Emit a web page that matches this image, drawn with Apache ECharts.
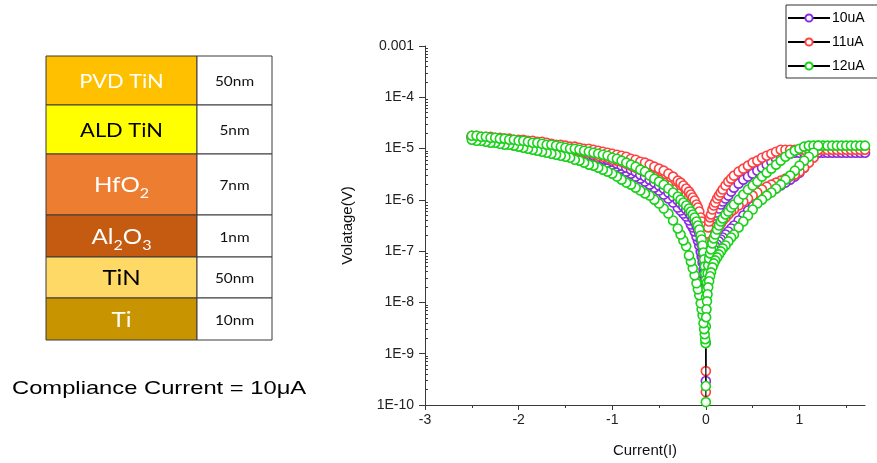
<!DOCTYPE html>
<html>
<head>
<meta charset="utf-8">
<script src="https://cdn.jsdelivr.net/npm/echarts@6/dist/echarts.min.js"></script>
<style>
  html, body { margin: 0; padding: 0; background: #fff; }
  #chart { width: 877px; height: 463px; }
</style>
</head>
<body>
<div id="chart"></div>
<script>
// ---- sweep currents ----
const sweepNeg = [-2.5, -2.45, -2.4, -2.35, -2.3, -2.25, -2.2, -2.15, -2.1, -2.05,
  -2.0, -1.95, -1.9, -1.85, -1.8, -1.75, -1.7, -1.65, -1.6, -1.55,
  -1.5, -1.45, -1.4, -1.35, -1.3, -1.25, -1.2, -1.15, -1.1, -1.05,
  -1.0, -0.95, -0.9, -0.85, -0.8, -0.75, -0.7, -0.65, -0.6, -0.55,
  -0.5, -0.45, -0.4, -0.35,
  -0.3, -0.27, -0.24, -0.21, -0.18, -0.16, -0.14, -0.12, -0.1, -0.085,
  -0.07, -0.055, -0.045, -0.035, -0.025, -0.018, -0.012, -0.007, -0.003];
const sweepPos = [0.003, 0.007, 0.012, 0.018, 0.025, 0.035, 0.045, 0.055, 0.07, 0.085,
  0.1, 0.12, 0.14, 0.16, 0.18, 0.21, 0.24, 0.27, 0.3,
  0.35, 0.4, 0.45, 0.5, 0.55, 0.6, 0.65, 0.7, 0.75, 0.8,
  0.85, 0.9, 0.95, 1.0, 1.05, 1.1, 1.15,
  1.2, 1.25, 1.3, 1.35, 1.4, 1.45, 1.5, 1.55, 1.6, 1.65, 1.7];

// ---- 10uA ----
const v10Zero = [2.93e-10];
const v10NegLower = [1.63e-5, 1.63e-5, 1.56e-5, 1.56e-5, 1.49e-5, 1.49e-5, 1.42e-5, 1.42e-5, 1.36e-5, 1.36e-5,
  1.30e-5, 1.24e-5, 1.19e-5, 1.19e-5, 1.14e-5, 1.09e-5, 1.04e-5, 9.94e-6, 9.50e-6, 9.50e-6,
  9.09e-6, 8.69e-6, 8.31e-6, 7.94e-6, 7.60e-6, 6.95e-6, 6.64e-6, 6.07e-6, 5.81e-6, 5.31e-6,
  4.86e-6, 4.44e-6, 4.06e-6, 3.55e-6, 3.24e-6, 2.84e-6, 2.59e-6, 2.27e-6, 1.98e-6, 1.73e-6,
  1.52e-6, 1.27e-6, 1.06e-6, 8.86e-7,
  7.08e-7, 6.19e-7, 5.41e-7, 4.73e-7, 3.96e-7, 3.31e-7, 2.89e-7, 2.42e-7, 1.93e-7, 1.62e-7,
  1.29e-7, 9.88e-8, 7.89e-8, 6.03e-8, 4.41e-8, 3.23e-8, 2.36e-8, 1.72e-8, 1.32e-8];
const v10NegUpper = [1.70e-5, 1.70e-5, 1.63e-5, 1.63e-5, 1.56e-5, 1.56e-5, 1.49e-5, 1.42e-5, 1.42e-5, 1.36e-5,
  1.36e-5, 1.30e-5, 1.30e-5, 1.24e-5, 1.19e-5, 1.19e-5, 1.14e-5, 1.09e-5, 1.04e-5, 1.04e-5,
  9.94e-6, 9.50e-6, 9.09e-6, 8.69e-6, 8.31e-6, 7.60e-6, 7.26e-6, 6.64e-6, 6.35e-6, 6.07e-6,
  5.55e-6, 5.08e-6, 4.64e-6, 4.25e-6, 3.88e-6, 3.55e-6, 3.10e-6, 2.84e-6, 2.48e-6, 2.17e-6,
  1.90e-6, 1.66e-6, 1.39e-6, 1.16e-6,
  9.69e-7, 8.47e-7, 7.41e-7, 6.47e-7, 5.66e-7, 4.95e-7, 4.33e-7, 3.78e-7, 3.16e-7, 2.64e-7,
  2.21e-7, 1.69e-7, 1.35e-7, 1.03e-7, 7.55e-8, 5.52e-8, 4.03e-8, 2.95e-8, 2.15e-8];
const v10PosRise = [4.41e-8, 6.31e-8, 9.03e-8, 1.29e-7, 1.69e-7, 2.21e-7, 2.64e-7, 3.03e-7, 3.62e-7, 4.33e-7,
  4.95e-7, 5.66e-7, 6.77e-7, 8.10e-7, 9.26e-7, 1.06e-6, 1.21e-6, 1.45e-6, 1.73e-6,
  2.07e-6, 2.48e-6, 2.84e-6, 3.24e-6, 3.71e-6, 4.25e-6, 4.86e-6, 5.55e-6, 6.35e-6, 6.95e-6,
  7.60e-6, 7.94e-6, 8.31e-6, 8.31e-6, 8.31e-6, 8.31e-6, 8.31e-6,
  8.31e-6, 8.31e-6, 8.31e-6, 8.31e-6, 8.31e-6, 8.31e-6, 8.31e-6, 8.31e-6, 8.31e-6, 8.31e-6, 8.31e-6];
const v10PosFall = [1.44e-8, 1.88e-8, 2.46e-8, 3.23e-8, 4.22e-8, 5.28e-8, 6.31e-8, 7.22e-8, 9.03e-8, 1.08e-7,
  1.24e-7, 1.35e-7, 1.55e-7, 1.69e-7, 1.85e-7, 2.11e-7, 2.42e-7, 2.77e-7, 3.16e-7,
  3.96e-7, 4.95e-7, 6.19e-7, 7.41e-7, 8.86e-7, 1.06e-6, 1.27e-6, 1.45e-6, 1.66e-6, 1.90e-6,
  2.17e-6, 2.48e-6, 2.84e-6, 3.39e-6, 4.25e-6, 5.55e-6, 6.95e-6,
  8.31e-6];

// ---- 11uA ----
const v11Zero = [1.79e-10, 4.58e-10];
const v11NegLower = [1.70e-5, 1.70e-5, 1.63e-5, 1.63e-5, 1.56e-5, 1.56e-5, 1.49e-5, 1.49e-5, 1.42e-5, 1.42e-5,
  1.36e-5, 1.36e-5, 1.30e-5, 1.30e-5, 1.24e-5, 1.19e-5, 1.14e-5, 1.14e-5, 1.09e-5, 1.04e-5,
  9.94e-6, 9.50e-6, 9.50e-6, 9.09e-6, 8.69e-6, 8.31e-6, 7.94e-6, 7.26e-6, 6.95e-6, 6.64e-6,
  6.07e-6, 5.81e-6, 5.55e-6, 5.08e-6, 4.64e-6, 4.25e-6, 3.88e-6, 3.55e-6, 3.10e-6, 2.84e-6,
  2.48e-6, 2.17e-6, 1.90e-6, 1.59e-6,
  1.33e-6, 1.21e-6, 1.06e-6, 9.26e-7, 8.10e-7, 7.08e-7, 6.19e-7, 5.41e-7, 4.73e-7, 4.14e-7,
  3.46e-7, 2.77e-7, 2.31e-7, 1.85e-7, 1.41e-7, 1.08e-7, 8.26e-8, 6.31e-8, 4.83e-8];
const v11NegUpper = [1.78e-5, 1.78e-5, 1.70e-5, 1.70e-5, 1.70e-5, 1.63e-5, 1.63e-5, 1.56e-5, 1.56e-5, 1.49e-5,
  1.49e-5, 1.49e-5, 1.42e-5, 1.42e-5, 1.36e-5, 1.36e-5, 1.30e-5, 1.24e-5, 1.19e-5, 1.19e-5,
  1.14e-5, 1.09e-5, 1.09e-5, 1.04e-5, 9.94e-6, 9.94e-6, 9.50e-6, 9.09e-6, 8.69e-6, 8.31e-6,
  7.94e-6, 7.60e-6, 7.26e-6, 6.95e-6, 6.35e-6, 6.07e-6, 5.55e-6, 5.31e-6, 4.86e-6, 4.44e-6,
  4.06e-6, 3.71e-6, 3.24e-6, 2.84e-6,
  2.37e-6, 2.17e-6, 1.90e-6, 1.66e-6, 1.45e-6, 1.27e-6, 1.11e-6, 9.69e-7, 8.10e-7, 7.08e-7,
  5.92e-7, 4.53e-7, 3.78e-7, 3.03e-7, 2.31e-7, 1.69e-7, 1.29e-7, 9.88e-8, 7.55e-8];
const v11PosRise = [7.55e-8, 1.08e-7, 1.55e-7, 2.21e-7, 2.89e-7, 3.78e-7, 4.53e-7, 5.18e-7, 6.47e-7, 7.74e-7,
  8.86e-7, 1.06e-6, 1.21e-6, 1.39e-6, 1.59e-6, 1.90e-6, 2.27e-6, 2.59e-6, 2.97e-6,
  3.55e-6, 4.06e-6, 4.64e-6, 5.31e-6, 5.81e-6, 6.64e-6, 7.26e-6, 7.94e-6, 8.69e-6, 9.50e-6,
  9.50e-6, 9.50e-6, 9.50e-6, 9.50e-6, 9.50e-6, 9.50e-6, 9.50e-6,
  9.50e-6, 9.50e-6, 9.50e-6, 9.50e-6, 9.50e-6, 9.50e-6, 9.50e-6, 9.50e-6, 9.50e-6, 9.50e-6, 9.50e-6];
const v11PosFall = [2.58e-8, 3.37e-8, 4.41e-8, 5.77e-8, 7.22e-8, 9.03e-8, 1.08e-7, 1.29e-7, 1.62e-7, 1.85e-7,
  2.21e-7, 2.64e-7, 3.03e-7, 3.46e-7, 3.96e-7, 4.53e-7, 5.18e-7, 5.92e-7, 6.47e-7,
  7.74e-7, 9.26e-7, 1.06e-6, 1.21e-6, 1.39e-6, 1.59e-6, 1.81e-6, 1.98e-6, 2.17e-6, 2.37e-6,
  2.59e-6, 2.84e-6, 3.10e-6, 3.55e-6, 4.25e-6, 5.31e-6, 6.64e-6,
  9.50e-6];

// ---- 12uA ----
const v12Zero = [1.14e-10, 2.34e-10, 1.61e-9, 3.44e-9, 7.04e-9];
const v12NegLower = [1.49e-5, 1.42e-5, 1.42e-5, 1.36e-5, 1.30e-5, 1.30e-5, 1.24e-5, 1.19e-5, 1.19e-5, 1.14e-5,
  1.09e-5, 1.04e-5, 9.94e-6, 9.50e-6, 9.09e-6, 8.69e-6, 8.31e-6, 7.94e-6, 7.60e-6, 7.26e-6,
  6.95e-6, 6.64e-6, 6.07e-6, 5.81e-6, 5.31e-6, 4.86e-6, 4.64e-6, 4.25e-6, 3.88e-6, 3.55e-6,
  3.24e-6, 2.84e-6, 2.48e-6, 2.17e-6, 1.98e-6, 1.73e-6, 1.52e-6, 1.33e-6, 1.21e-6, 1.01e-6,
  8.47e-7, 6.77e-7, 5.41e-7, 3.96e-7,
  2.77e-7, 2.11e-7, 1.62e-7, 1.24e-7, 8.26e-8, 6.31e-8, 4.62e-8, 3.37e-8, 2.36e-8, 1.80e-8,
  1.38e-8, 9.61e-9, 7.35e-9, 5.62e-9, 3.93e-9, 3.01e-9, 2.40e-9, 1.92e-9, 1.61e-9];
const v12NegUpper = [1.78e-5, 1.78e-5, 1.70e-5, 1.70e-5, 1.63e-5, 1.63e-5, 1.56e-5, 1.56e-5, 1.49e-5, 1.49e-5,
  1.42e-5, 1.42e-5, 1.36e-5, 1.30e-5, 1.30e-5, 1.24e-5, 1.19e-5, 1.19e-5, 1.14e-5, 1.09e-5,
  1.04e-5, 9.94e-6, 9.94e-6, 9.50e-6, 9.09e-6, 8.69e-6, 8.31e-6, 7.94e-6, 7.60e-6, 7.26e-6,
  6.64e-6, 6.35e-6, 5.81e-6, 5.31e-6, 4.86e-6, 4.44e-6, 3.88e-6, 3.55e-6, 2.97e-6, 2.59e-6,
  2.27e-6, 1.98e-6, 1.66e-6, 1.39e-6,
  1.16e-6, 1.01e-6, 8.86e-7, 7.74e-7, 6.77e-7, 5.92e-7, 5.18e-7, 4.53e-7, 3.78e-7, 3.16e-7,
  2.64e-7, 2.02e-7, 1.69e-7, 1.29e-7, 9.44e-8, 6.90e-8, 5.05e-8, 3.69e-8, 2.70e-8];
const v12PosRise = [1.26e-8, 1.80e-8, 2.46e-8, 3.69e-8, 5.28e-8, 7.22e-8, 9.03e-8, 1.08e-7, 1.41e-7, 1.77e-7,
  2.11e-7, 2.64e-7, 3.16e-7, 3.78e-7, 4.33e-7, 5.18e-7, 5.92e-7, 7.08e-7, 8.10e-7,
  1.01e-6, 1.27e-6, 1.59e-6, 1.90e-6, 2.27e-6, 2.84e-6, 3.39e-6, 4.06e-6, 4.86e-6, 5.81e-6,
  6.95e-6, 7.94e-6, 9.09e-6, 9.94e-6, 1.09e-5, 1.14e-5, 1.14e-5,
  1.14e-5, 1.14e-5, 1.14e-5, 1.14e-5, 1.14e-5, 1.14e-5, 1.14e-5, 1.14e-5, 1.14e-5, 1.14e-5, 1.14e-5];
const v12PosFall = [5.14e-9, 7.35e-9, 1.05e-8, 1.44e-8, 1.97e-8, 2.58e-8, 3.23e-8, 3.86e-8, 4.83e-8, 5.77e-8,
  6.60e-8, 7.55e-8, 8.63e-8, 9.88e-8, 1.13e-7, 1.29e-7, 1.55e-7, 1.85e-7, 2.11e-7,
  2.89e-7, 3.78e-7, 4.95e-7, 6.47e-7, 8.47e-7, 1.01e-6, 1.21e-6, 1.39e-6, 1.66e-6, 1.98e-6,
  2.48e-6, 2.97e-6, 3.71e-6, 4.64e-6, 5.81e-6, 6.95e-6, 8.31e-6,
  1.14e-5];

const seriesNames = ['10uA', '11uA', '12uA'];

// ---- axis ticks ----
const xTickValues = [-3, -2, -1, 0, 1];
const xMinorTickValues = [-2.5, -1.5, -0.5, 0.5, 1.5];
const yTickValues = [1e-10, 1e-9, 1e-8, 1e-7, 1e-6, 1e-5, 1e-4, 1e-3];
const yTickLabels = ['1E-10', '1E-9', '1E-8', '1E-7', '1E-6', '1E-5', '1E-4', '0.001'];

// ---- layer stack ----
const layerNames = ['PVD TiN', 'ALD TiN', 'HfO{s|2}', 'Al{s|2}O{s|3}', 'TiN', 'Ti'];
const layerThickness = ['50nm', '5nm', '7nm', '1nm', '50nm', '10nm'];
const complianceText = 'Compliance Current = 10\u03bcA';

// one measurement run: start near 0 V, sweep negative and back, then positive and back
function buildSweep(zero, negLower, negUpper, posRise, posFall) {
  const pts = [];
  zero.forEach(v => pts.push([0, v]));
  for (let i = negLower.length - 1; i >= 0; i--) pts.push([sweepNeg[i], negLower[i]]);
  for (let i = 0; i < negUpper.length; i++) pts.push([sweepNeg[i], negUpper[i]]);
  for (let i = 0; i < posRise.length; i++) pts.push([sweepPos[i], posRise[i]]);
  for (let i = posFall.length - 1; i >= 0; i--) pts.push([sweepPos[i], posFall[i]]);
  return pts;
}

const runs = [
  buildSweep(v10Zero, v10NegLower, v10NegUpper, v10PosRise, v10PosFall),
  buildSweep(v11Zero, v11NegLower, v11NegUpper, v11PosRise, v11PosFall),
  buildSweep(v12Zero, v12NegLower, v12NegUpper, v12PosRise, v12PosFall)
];
const markerColors = ['#8a2be2', '#ff4040', '#19d219'];

// minor ticks for the log axis: 2..9 within each decade
const yMinorTicks = [];
for (let e = -10; e < -3; e++) {
  for (let k = 2; k <= 9; k++) yMinorTicks.push(k * Math.pow(10, e));
}

const AXIS_COLOR = '#3a3a3a';
const GRID = { left: 425, top: 46, right: 12, bottom: 57 };
const gridWidth = 877 - GRID.left - GRID.right;

// ---- layer stack table as graphic elements ----
const tableLeft = 46, colSplit = 197, tableRight = 272, tableTop = 56;
const rowHeights = [49, 49, 61, 42, 41, 42];
const layerFill = ['#ffc000', '#ffff00', '#ed7d31', '#c55a11', '#ffd966', '#c89500'];
const layerTextColor = ['#fff', '#000', '#fff', '#fff', '#000', '#fff'];
const layerFontSize = [19, 19, 21, 21, 21, 21];

const graphics = [];
let yCursor = tableTop;
rowHeights.forEach((h, i) => {
  graphics.push({
    type: 'rect', shape: { x: tableLeft, y: yCursor, width: colSplit - tableLeft, height: h },
    style: { fill: layerFill[i], stroke: AXIS_COLOR, lineWidth: 1 }
  });
  graphics.push({
    type: 'rect', shape: { x: colSplit, y: yCursor, width: tableRight - colSplit, height: h },
    style: { fill: '#fff', stroke: AXIS_COLOR, lineWidth: 1 }
  });
  graphics.push({
    type: 'text', x: (tableLeft + colSplit) / 2, y: yCursor + h / 2 + 1, scaleX: 1.15,
    style: {
      text: layerNames[i], x: 0, y: 0, align: 'center', verticalAlign: 'middle',
      fontFamily: 'Lato', fontSize: layerFontSize[i], lineHeight: 30, fill: layerTextColor[i],
      rich: { s: { fontFamily: 'Lato', fontSize: 14, lineHeight: 16, verticalAlign: 'bottom', fill: layerTextColor[i] } }
    }
  });
  graphics.push({
    type: 'text', x: (colSplit + tableRight) / 2, y: yCursor + h / 2 + 1, scaleX: 1.1,
    style: {
      text: layerThickness[i], x: 0, y: 0, align: 'center', verticalAlign: 'middle',
      fontFamily: 'Lato', fontSize: 14, fill: '#111'
    }
  });
  yCursor += h;
});
graphics.push({
  type: 'text', x: 12, y: 389, scaleX: 1.25,
  style: {
    text: complianceText, x: 0, y: 0, align: 'left', verticalAlign: 'middle',
    fontFamily: 'Liberation Sans', fontSize: 19, fill: '#000'
  }
});

const chart = echarts.init(document.getElementById('chart'), null, { renderer: 'canvas' });
chart.setOption({
  animation: false,
  backgroundColor: '#fff',
  textStyle: { fontFamily: 'Liberation Sans' },
  grid: GRID,
  legend: {
    data: seriesNames,
    orient: 'vertical',
    left: 786, top: 5,
    itemWidth: 42, itemHeight: 9, itemGap: 10,
    padding: [6, 20, 5, 1],
    borderColor: '#333', borderWidth: 1,
    textStyle: { fontFamily: 'Liberation Sans', fontSize: 14, color: '#000', padding: [0, 0, 0, -3] }
  },
  xAxis: [{
    type: 'value', min: -3, max: 1.7, position: 'bottom',
    name: 'Current(I)', nameLocation: 'middle', nameGap: 38,
    nameTextStyle: { fontFamily: 'Liberation Sans', fontSize: 15, color: '#111' },
    axisLine: { onZero: false, lineStyle: { color: AXIS_COLOR, width: 1 } },
    axisTick: { customValues: xTickValues, length: 5, lineStyle: { color: AXIS_COLOR } },
    axisLabel: { customValues: xTickValues, fontFamily: 'Liberation Sans', fontSize: 14, color: '#222', margin: 8 },
    splitLine: { show: false }
  }, {
    type: 'value', min: -3, max: 1.7, position: 'bottom',
    axisLine: { show: false, onZero: false },
    axisTick: { customValues: xMinorTickValues, length: 3, lineStyle: { color: AXIS_COLOR } },
    axisLabel: { show: false },
    splitLine: { show: false }
  }],
  yAxis: [{
    type: 'log', logBase: 10, min: 1e-10, max: 1e-3, position: 'left',
    name: 'Volatage(V)', nameLocation: 'middle', nameGap: 70, nameRotate: 90,
    nameTextStyle: { fontFamily: 'Liberation Sans', fontSize: 15, color: '#111' },
    axisLine: { show: true, onZero: false, lineStyle: { color: AXIS_COLOR, width: 1 } },
    axisTick: { customValues: yTickValues, length: 6, lineStyle: { color: AXIS_COLOR } },
    axisLabel: {
      customValues: yTickValues, fontFamily: 'Liberation Sans', fontSize: 14, color: '#222', margin: 11,
      formatter: v => yTickLabels[Math.round(Math.log10(v)) + 10]
    },
    splitLine: { show: false }
  }, {
    type: 'log', logBase: 10, min: 1e-10, max: 1e-3, position: 'right', offset: -gridWidth,
    axisLine: { show: false, onZero: false },
    axisTick: { customValues: yMinorTicks, length: 3, lineStyle: { color: AXIS_COLOR } },
    axisLabel: { show: false },
    splitLine: { show: false }
  }],
  series: runs.map((pts, i) => ({
    type: 'line',
    name: seriesNames[i],
    data: pts,
    xAxisIndex: 0, yAxisIndex: 0,
    symbol: 'circle', symbolSize: 9, showSymbol: true,
    lineStyle: { color: '#000', width: 1.2 },
    itemStyle: { color: '#fff', borderColor: markerColors[i], borderWidth: 1.6 },
    emphasis: { disabled: true },
    clip: true,
    z: 2 + i
  })),
  graphic: graphics
});
</script>
</body>
</html>
